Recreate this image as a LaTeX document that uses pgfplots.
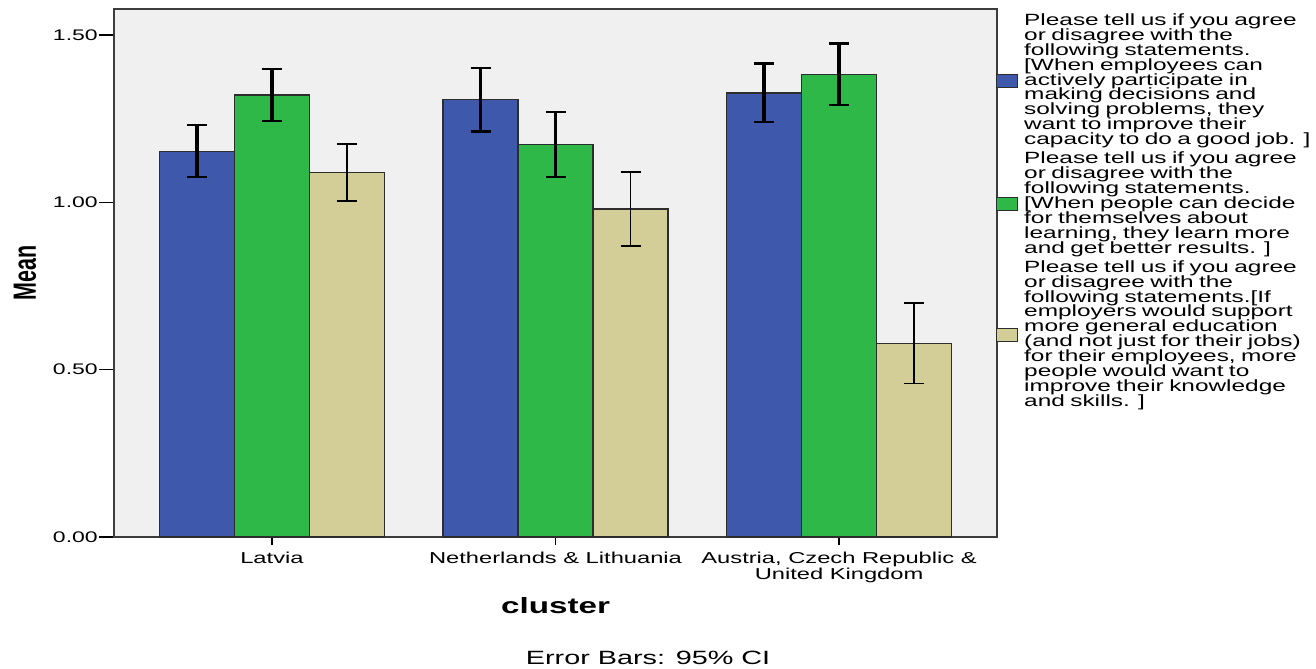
\documentclass[border=0pt]{standalone}
\usepackage{pgfplots}
\pgfplotsset{compat=1.18}
\usepackage{pgfplotstable}
\usepackage{fontspec}
\usepackage{graphicx}
\setmainfont{Liberation Sans}[FakeStretch=1.5]
\newfontfamily\meanfont{Liberation Sans}
\definecolor{cBlue}{RGB}{62,88,172}
\definecolor{cGreen}{RGB}{46,184,72}
\definecolor{cTan}{RGB}{211,206,151}
\definecolor{bgGray}{RGB}{240,240,240}
\definecolor{edge}{RGB}{45,45,45}
\definecolor{frame}{RGB}{60,60,60}

\pgfplotstableread{
x y e
0 1.153 0.078
1 1.307 0.095
2 1.327 0.088
}\tblBlue
\pgfplotstableread{
x y e
0 1.321 0.077
1 1.172 0.097
2 1.383 0.092
}\tblGreen
\pgfplotstableread{
x y e
0 1.090 0.085
1 0.980 0.111
2 0.579 0.120
}\tblTan

\newcommand{\legfont}{\fontsize{12.2pt}{11.2pt}\selectfont\lineskiplimit=-20pt\relax}

\pgfplotsset{
  swatchA/.style={legend image code/.code={\draw[fill=cBlue, draw=edge, line width=0.9pt] (0pt,-4.9pt) rectangle (15.75pt,4.9pt); \path (20.25pt,0pt);}},
  swatchB/.style={legend image code/.code={\draw[fill=cGreen, draw=edge, line width=0.9pt] (0pt,-4.9pt) rectangle (15.75pt,4.9pt); \path (20.25pt,0pt);}},
  swatchC/.style={legend image code/.code={\draw[fill=cTan, draw=edge, line width=0.9pt] (0pt,-4.9pt) rectangle (15.75pt,4.9pt); \path (20.25pt,0pt);}},
}

\begin{document}
\begin{tikzpicture}
\begin{axis}[
  at={(0,0)}, anchor=south west,
  scale only axis,
  width=662.25pt, height=396pt,
  xmin=-0.557, xmax=2.557,
  ymin=0, ymax=1.578,
  ybar=0pt, bar width=56.25pt,
  axis background/.style={fill=bgGray},
  axis line style={frame, line width=1.2pt},
  tick align=outside,
  xtick pos=lower, ytick pos=left,
  xtick={0,1,2},
  xticklabels={Latvia, Netherlands \& Lithuania, {Austria, Czech Republic \&\\United Kingdom}},
  major x tick style={draw=none},
  minor xtick={0,1,2},
  minor tick length=6pt,
  minor x tick style={black, line width=1.1pt},
  ytick={0,0.5,1,1.5},
  major tick length=11pt,
  major y tick style={black, line width=1.1pt},
  /pgf/number format/fixed,
  /pgf/number format/fixed zerofill,
  /pgf/number format/precision=2,
  /pgf/number format/assume math mode=true,
  y tick label style={font=\fontsize{11.5pt}{13pt}\selectfont, anchor=east, inner sep=1pt},
  x tick label style={font=\fontsize{11.85pt}{9.5pt}\selectfont, align=center, anchor=north, inner sep=0pt},
  xlabel={\fontsize{16.6pt}{18pt}\selectfont\bfseries cluster},
  xlabel style={at={(axis description cs:0.5,-0.129)}, anchor=center},
  ylabel={\scalebox{1}[1.5]{\meanfont\fontsize{16.1pt}{18pt}\selectfont\bfseries Mean}},
  ylabel style={at={(axis description cs:-0.1008,0.5)}, anchor=center},
  legend cell align=left,
  legend style={at={(axis description cs:1,1)}, anchor=north west, xshift=-0.75pt, yshift=-3.4pt,
    draw=none, fill=none, inner sep=0pt, outer sep=0pt, row sep=2.8pt,
    nodes={inner sep=0pt, text depth=, text height=, text width=240pt, align=left, font=\legfont}},
  error bars/y dir=both,
  error bars/y explicit,
  error bars/error mark=|,
  clip=false,
]
\addplot[fill=cBlue, draw=edge, line width=0.9pt, swatchA,
  error bars/error bar style={line width=2.4pt, black},
  error bars/error mark options={mark size=7.5pt, line width=1.6pt, black}]
  table[x=x, y=y, y error=e]{\tblBlue};
\addlegendentry{Please tell us if you agree\\or disagree with the\\following statements.\\{}[When employees can\\actively participate in\\making decisions and\\solving problems, they\\want to improve their\\capacity to do a good job. ]}
\addplot[fill=cGreen, draw=edge, line width=0.9pt, swatchB,
  error bars/error bar style={line width=2.4pt, black},
  error bars/error mark options={mark size=7.5pt, line width=1.6pt, black}]
  table[x=x, y=y, y error=e]{\tblGreen};
\addlegendentry{Please tell us if you agree\\or disagree with the\\following statements.\\{}[When people can decide\\for themselves about\\learning, they learn more\\and get better results. ]}
\addplot[fill=cTan, draw=edge, line width=0.9pt, swatchC,
  error bars/error bar style={line width=1.2pt, black},
  error bars/error mark options={mark size=7.5pt, line width=1.2pt, black}]
  table[x=x, y=y, y error=e]{\tblTan};
\addlegendentry{Please tell us if you agree\\or disagree with the\\following statements.[If\\employers would support\\more general education\\(and not just for their jobs)\\for their employees, more\\people would want to\\improve their knowledge\\and skills. ]}
\node[anchor=center, font=\fontsize{14.4pt}{16pt}\selectfont] at (axis description cs:0.6048,-0.229) {Error Bars: 95\% CI};
\end{axis}
\pgfresetboundingbox
\useasboundingbox (-85.5pt,-98.25pt) rectangle (901.5pt,402.75pt);
\end{tikzpicture}
\end{document}
